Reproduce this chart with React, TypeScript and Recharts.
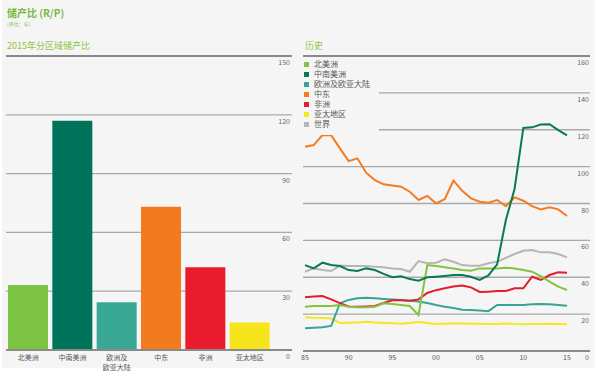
import React from "react";
import {
  BarChart,
  Bar,
  Cell,
  LineChart,
  Line,
  XAxis,
  YAxis,
  CartesianGrid,
  ReferenceLine,
} from "recharts";

const regions = ["北美洲", "中南美洲", "欧洲及欧亚大陆", "中东", "非洲", "亚太地区"];
const regionTickLabels = ["北美洲", "中南美洲", "欧洲及\n欧亚大陆", "中东", "非洲", "亚太地区"];
const regionColors = ["#7cc243", "#00745a", "#38a895", "#f47a20", "#e91b2d", "#f6e51c"];
const rp2015 = [33.1, 117.0, 24.4, 73.1, 42.2, 14.0];
const barTicks = [0, 30, 60, 90, 120, 150];

const years = [
  1985, 1986, 1987, 1988, 1989, 1990, 1991, 1992, 1993, 1994,
  1995, 1996, 1997, 1998, 1999, 2000, 2001, 2002, 2003, 2004,
  2005, 2006, 2007, 2008, 2009, 2010, 2011, 2012, 2013, 2014, 2015,
];
const yearTicks = [1985, 1990, 1995, 2000, 2005, 2010, 2015];
const lineTicks = [0, 20, 40, 60, 80, 100, 120, 140, 160];

const northAmerica = [
  24.0, 24.4, 24.4, 24.4, 24.9, 24.0, 23.7, 23.7, 24.0, 25.9,
  25.5, 24.9, 24.4, 19.5, 46.6, 46.1, 45.4, 44.8, 43.9, 43.5,
  44.8, 44.8, 44.8, 45.2, 44.8, 43.9, 43.0, 40.6, 37.6, 34.9, 33.1,
];
const csAmerica = [
  46.6, 44.8, 47.9, 46.6, 46.1, 43.9, 43.4, 44.8, 43.9, 41.8,
  40.0, 40.5, 39.0, 38.1, 40.0, 40.3, 40.7, 41.2, 41.2, 40.3,
  38.6, 41.0, 47.0, 71.0, 88.0, 121.0, 121.3, 122.8, 123.0, 119.8, 117.0,
];
const europe = [
  12.3, 12.6, 12.9, 13.6, 25.9, 27.7, 28.6, 28.9, 28.6, 28.2,
  27.9, 27.7, 27.3, 26.9, 26.0, 24.9, 24.0, 23.3, 22.4, 22.2,
  22.0, 21.6, 25.0, 25.0, 24.9, 25.0, 25.3, 25.5, 25.3, 24.9, 24.6,
];
const middleEast = [
  110.8, 111.7, 117.1, 117.0, 109.9, 103.0, 104.5, 96.7, 92.7, 90.4,
  89.8, 89.1, 86.4, 81.9, 84.1, 80.1, 82.3, 92.4, 86.9, 82.8,
  81.0, 80.4, 81.9, 78.6, 83.3, 81.5, 78.6, 76.8, 77.9, 76.8, 73.2,
];
const africa = [
  29.2, 29.5, 29.8, 28.0, 26.0, 24.2, 24.0, 24.2, 24.4, 26.0,
  27.5, 27.5, 27.3, 28.0, 31.5, 33.0, 34.0, 35.0, 35.5, 34.5,
  32.0, 32.2, 32.5, 32.5, 34.0, 34.0, 40.3, 38.5, 41.2, 42.7, 42.5,
];
const asiaPacific = [
  18.3, 18.0, 17.9, 17.6, 15.2, 15.3, 15.5, 15.8, 15.4, 15.2,
  15.0, 14.8, 15.2, 15.7, 15.2, 14.6, 14.8, 15.0, 14.9, 14.8,
  14.8, 14.7, 14.6, 14.9, 14.6, 14.5, 14.6, 14.6, 14.8, 14.6, 14.5,
];
const world = [
  43.0, 44.8, 43.9, 43.4, 46.3, 46.1, 46.1, 46.1, 45.7, 45.4,
  44.8, 44.5, 43.0, 48.8, 47.6, 47.9, 49.7, 48.4, 46.6, 46.3,
  46.3, 47.6, 48.4, 50.5, 52.6, 54.4, 54.8, 53.5, 53.5, 52.6, 50.8,
];

const seriesNames = ["北美洲", "中南美洲", "欧洲及欧亚大陆", "中东", "非洲", "亚太地区", "世界"];
const seriesValues = [northAmerica, csAmerica, europe, middleEast, africa, asiaPacific, world];
const seriesColors = ["#84c341", "#0a7a52", "#37a593", "#f47b20", "#e31d2c", "#f6e81e", "#b5b5b5"];
const drawOrder = [6, 5, 2, 4, 0, 3, 1];

const barData = regions.map((r, i) => ({ region: r, value: rp2015[i] }));
const lineData = years.map((y, i) => {
  const row: Record<string, number> = { year: y };
  seriesNames.forEach((n, k) => {
    row[n] = seriesValues[k][i];
  });
  return row;
});

const BG = "#f5f5f5";
const FONT = "'Noto Sans CJK SC', 'Noto Sans', sans-serif";
const GRID = "#a9a9a9";
const AXIS = "#8a8a8a";

// value labels sit just under each grid line, flush right
const makeRightTick = (xRight: number) => (props: any) => (
  <text x={xRight} y={props.y + 9} textAnchor="end" fontSize={7} fill="#666" fontFamily={FONT}>
    {props.payload.value}
  </text>
);
const BarValueTick = makeRightTick(290);
const LineValueTick = makeRightTick(293);

const RegionTick = (props: any) => {
  const idx = regions.indexOf(props.payload.value);
  const lines = (regionTickLabels[idx] || props.payload.value).split("\n");
  return (
    <text x={props.x} y={props.y + 10} textAnchor="middle" fontSize={7} fill="#555" fontFamily={FONT}>
      {lines.map((l: string, i: number) => (
        <tspan key={i} x={props.x} dy={i === 0 ? 0 : 10}>
          {l}
        </tspan>
      ))}
    </text>
  );
};

const YearTick = (props: any) => (
  <text x={props.x} y={props.y + 9} textAnchor="middle" fontSize={7} fill="#555" fontFamily={FONT}>
    {String(props.payload.value).slice(2)}
  </text>
);

export default function App() {
  return (
    <div style={{ position: "absolute", left: 0, top: 0, width: 600, height: 371, background: "#fff", fontFamily: FONT }}>
      <div style={{ position: "absolute", left: 2, top: 0, width: 593, height: 368, background: BG }} />

      <div style={{ position: "absolute", left: 7, top: 8, fontSize: 10, fontWeight: 700, color: "#78b843", lineHeight: 1 }}>
        储产比 (R/P)
      </div>
      <div style={{ position: "absolute", left: 7, top: 21, fontSize: 5, color: "#8dbb6a", lineHeight: 1 }}>(单位：年)</div>
      <div style={{ position: "absolute", left: 7, top: 41, fontSize: 9, color: "#8cc63f", lineHeight: 1 }}>
        2015年分区域储产比
      </div>
      <div style={{ position: "absolute", left: 305, top: 41, fontSize: 9, color: "#8cc63f", lineHeight: 1 }}>历史</div>

      <div style={{ position: "absolute", left: 0, top: 0 }}>
        <BarChart width={300} height={371} data={barData} margin={{ top: 56, right: 8, bottom: 0, left: 6 }} barCategoryGap={2}>
          <CartesianGrid vertical={false} stroke={GRID} strokeWidth={1.3} />
          <XAxis
            dataKey="region"
            height={21}
            tickSize={0}
            tickMargin={0}
            axisLine={{ stroke: AXIS, strokeWidth: 2 }}
            tickLine={false}
            padding={{ left: 0, right: 20 }}
            tick={<RegionTick />}
            interval={0}
          />
          <YAxis
            orientation="right"
            mirror
            width={20}
            domain={[0, 150]}
            ticks={barTicks}
            tickSize={0}
            tickMargin={2}
            axisLine={false}
            tickLine={false}
            tick={BarValueTick}
          />
          <ReferenceLine y={barTicks[barTicks.length - 1]} stroke={AXIS} strokeWidth={2} />
          <Bar dataKey="value" isAnimationActive={false}>
            {barData.map((d, i) => (
              <Cell key={d.region} fill={regionColors[i]} />
            ))}
          </Bar>
        </BarChart>
      </div>

      <div style={{ position: "absolute", left: 296, top: 0 }}>
        <LineChart width={304} height={371} data={lineData} margin={{ top: 56, right: 10, bottom: 0, left: 7 }}>
          <CartesianGrid vertical={false} stroke={GRID} strokeWidth={1.3} />
          <XAxis
            dataKey="year"
            type="number"
            domain={[1985, 2015]}
            ticks={yearTicks}
            height={20}
            tickSize={0}
            tickMargin={0}
            axisLine={{ stroke: AXIS, strokeWidth: 2 }}
            tickLine={false}
            padding={{ left: 2, right: 23 }}
            tick={<YearTick />}
            interval={0}
          />
          <YAxis
            orientation="right"
            mirror
            width={20}
            domain={[0, 160]}
            ticks={lineTicks}
            tickSize={0}
            tickMargin={1}
            axisLine={false}
            tickLine={false}
            tick={LineValueTick}
          />
          <ReferenceLine y={lineTicks[lineTicks.length - 1]} stroke={AXIS} strokeWidth={2} />
          {drawOrder.map((k) => (
            <Line
              key={seriesNames[k]}
              dataKey={seriesNames[k]}
              stroke={seriesColors[k]}
              strokeWidth={2}
              dot={false}
              type="linear"
              isAnimationActive={false}
            />
          ))}
        </LineChart>
      </div>

      <div style={{ position: "absolute", left: 300, top: 58, width: 79, height: 77, background: BG }}>
        {seriesNames.map((n, i) => (
          <div key={n} style={{ position: "absolute", left: 4, top: 1 + i * 10, height: 10, display: "flex", alignItems: "center" }}>
            <span style={{ width: 5, height: 5, background: seriesColors[i], display: "inline-block", marginRight: 5 }} />
            <span style={{ fontSize: 8, color: "#555", lineHeight: 1 }}>{n}</span>
          </div>
        ))}
      </div>
    </div>
  );
}
